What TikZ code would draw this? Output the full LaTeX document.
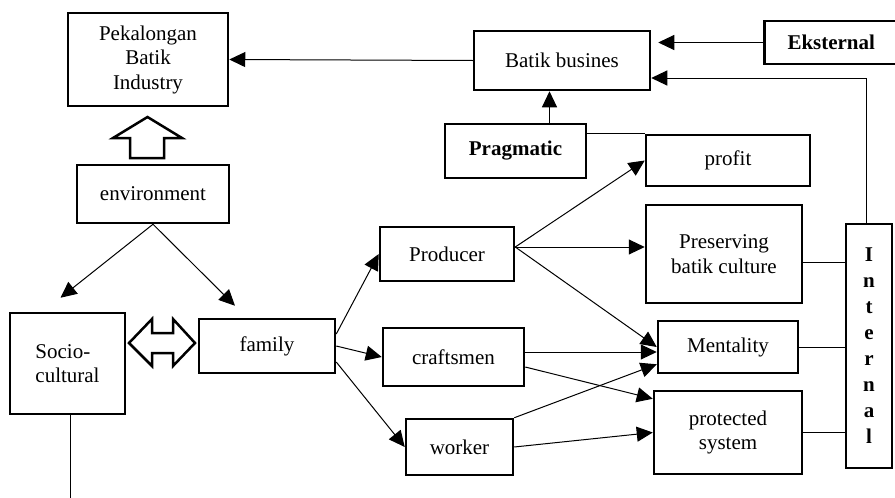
\documentclass[tikz,border=0pt]{standalone}
\usepackage{fontspec}
\setmainfont{Liberation Serif}
\usetikzlibrary{arrows.meta}
\begin{document}
\begin{tikzpicture}[x=1pt,y=-1pt,
	box/.style={draw,line width=2.5pt,inner sep=0pt,align=center,font=\fontsize{21}{24.5}\selectfont},
	arr/.style={line width=1pt,-{Triangle[length=16pt,width=15pt]}},
	ln/.style={line width=1pt}]
	\useasboundingbox (0,0) rectangle (895,498);
	\clip (0,0) rectangle (895,498);
	\node[box,minimum width=160pt,minimum height=93pt] (pbi) at (148,59.5) {Pekalongan\\Batik\\Industry};
	\node[box,minimum width=152pt,minimum height=58pt] (env) at (153,194) {environment};
	\node[box,minimum width=115pt,minimum height=101pt,align=left] (socio) at (67.5,363.5) {Socio-\\cultural};
	\node[box,minimum width=136pt,minimum height=54pt] (family) at (267,346) {family};
	\node[box,minimum width=134pt,minimum height=54pt] (producer) at (447,254) {Producer};
	\node[box,minimum width=141pt,minimum height=58pt] (crafts) at (453.5,357) {craftsmen};
	\node[box,minimum width=107pt,minimum height=56pt] (worker) at (459.5,447) {worker};
	\node[box,minimum width=176pt,minimum height=59pt] (batik) at (562,60.5) {Batik busines};
	\node[box,minimum width=134pt,minimum height=43pt,anchor=west,font=\fontsize{21}{24.5}\selectfont\bfseries] (eks) at (763,42.5) {Eksternal};
	\node[box,minimum width=141pt,minimum height=54pt,font=\fontsize{21}{24.5}\selectfont\bfseries] (prag) at (515.5,151) {Pragmatic};
	\node[box,minimum width=164pt,minimum height=51pt] (profit) at (728,160.5) {profit};
	\node[box,minimum width=156pt,minimum height=98pt] (pres) at (724,254) {Preserving\\batik culture};
	\node[box,minimum width=140pt,minimum height=52pt] (ment) at (728,347) {Mentality};
	\node[box,minimum width=148pt,minimum height=83pt] (prot) at (728,432.5) {protected\\system};
	\node[box,line width=1.8pt,minimum width=46pt,minimum height=244pt,font=\fontsize{21}{26}\selectfont\bfseries] (internal) at (869,346) {I\\n\\t\\e\\r\\n\\a\\l};
	\draw[line width=2.5pt] (130,158) -- (130,138) -- (113,138) -- (147.5,117) -- (182,138) -- (164,138) -- (164,158) -- cycle;
	\draw[line width=2.5pt] (129,343) -- (152,319) -- (152,333) -- (173,333) -- (173,319) -- (195,343) -- (173,366) -- (173,353) -- (152,353) -- (152,366) -- cycle;
	\draw[arr] (batik.west) -- (pbi.east);
	\draw[arr,shorten >=7pt] (eks.west) -- (batik.east |- eks.west);
	\draw[arr] ([xshift=-3pt]internal.north) |- ([yshift=-17.5pt]batik.east);
	\draw[arr] ([xshift=34pt]prag.north) -- ([xshift=34pt]prag.north |- batik.south);
	\draw[ln] (prag.east |- profit.north west) -- (profit.north west);
	\coordinate (p0) at ([yshift=7pt]producer.east);
	\draw[arr] (p0) -- (profit.west);
	\draw[arr] (p0) -- (p0 -| pres.west);
	\draw[arr] (p0) -- (ment.west);
	\draw[arr] ([yshift=12pt]family.east) -- (producer.west);
	\draw[arr] (family.east) -- (crafts.west);
	\draw[arr] ([yshift=-16pt]family.east) -- (worker.west);
	\draw[arr] ([yshift=5pt]crafts.east) -- ([yshift=5pt]crafts.east -| ment.west);
	\draw[arr] ([yshift=-10pt]crafts.east) -- ([yshift=-9pt]prot.north west);
	\draw[arr] (worker.north east) -- ([yshift=10pt]ment.south west);
	\draw[arr] (worker.east) -- (prot.west);
	\draw[ln] ([yshift=-8pt]pres.east) -- ([yshift=-8pt]pres.east -| internal.west);
	\draw[ln] (ment.east) -- (ment.east -| internal.west);
	\draw[ln] (prot.east) -- (prot.east -| internal.west);
	\draw[arr] (env.south) -- ([shift={(-7pt,14pt)}]socio.north);
	\draw[arr] (env.south) -- ([shift={(-32pt,12pt)}]family.north);
	\coordinate (sbot) at (70,498);
	\draw[ln] (socio.south -| sbot) -- (sbot);
\end{tikzpicture}
\end{document}
